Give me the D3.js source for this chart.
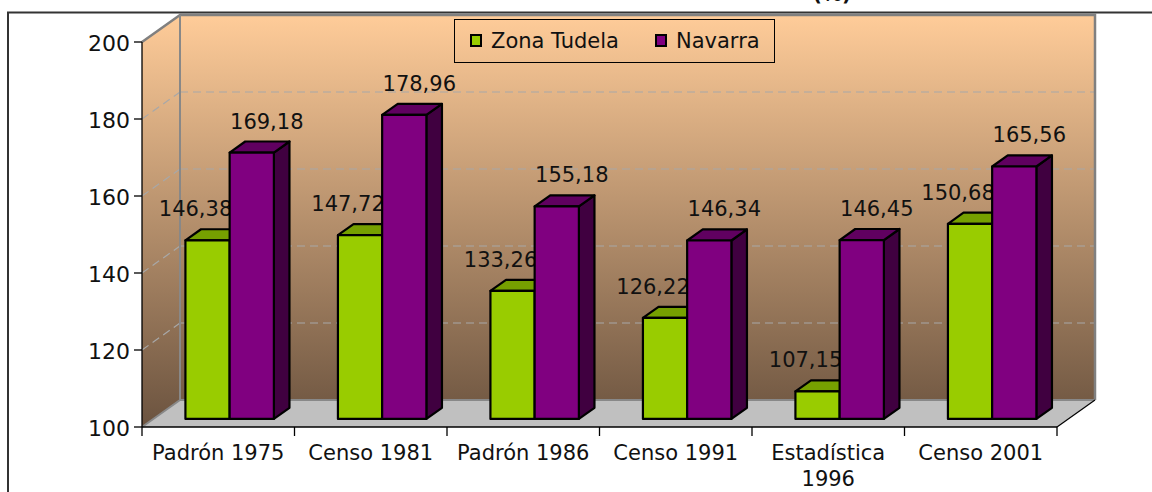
<!DOCTYPE html>
<html><head><meta charset="utf-8">
<script src="https://cdn.jsdelivr.net/npm/d3@7"></script>
<style>body{margin:0;background:#fff;overflow:hidden} text{font-family:"DejaVu Sans",Verdana,sans-serif;fill:#111}</style>
</head><body><svg id="c" width="1152" height="492"></svg>
<script>
const categories = ["Padrón 1975","Censo 1981","Padrón 1986","Censo 1991","Estadística 1996","Censo 2001"];
const seriesNames = ["Zona Tudela","Navarra"];
const zonaTudela = [146.38,147.72,133.26,126.22,107.15,150.68];
const navarra = [169.18,178.96,155.18,146.34,146.45,165.56];
const yTicks = [100,120,140,160,180,200];
const titleText = "(%)";

const series = [
  {name: seriesNames[0], values: zonaTudela, front:"#99CC00", top:"#76A000", side:"#5A7A00", labelDx:-12},
  {name: seriesNames[1], values: navarra, front:"#800080", top:"#600060", side:"#400040", labelDx:15}
];

const svg = d3.select("#c");
const fmt = d3.formatLocale({decimal:",", thousands:".", grouping:[3], currency:["","€"]}).format(".2f");

const X0=142, X1=1057, Y0=427, Y1=42, DX=38, DY=-27;
const x = d3.scaleBand().domain(categories).range([X0,X1]);
const y = d3.scaleLinear().domain([100,200]).range([Y0,Y1]);
const bw = x.bandwidth();
const xs = d3.scaleBand().domain(seriesNames).range([bw*0.21, bw*0.79]);
const f0 = 0.3, fd = 0.41;

// gradient
const defs = svg.append("defs");
const g = defs.append("linearGradient").attr("id","wall").attr("gradientUnits","userSpaceOnUse")
  .attr("x1",0).attr("x2",0).attr("y1",Y1+DY).attr("y2",Y0);
g.append("stop").attr("offset",0).attr("stop-color","#FFCC99");
g.append("stop").attr("offset",1).attr("stop-color","#6B533F");

// title (mostly cut off at top, as in the reference)
svg.append("text").attr("x",832).attr("y",1).attr("text-anchor","middle")
  .style("font-size","20px").style("font-weight","bold").text(titleText);

// back wall
svg.append("rect").attr("x",X0+DX).attr("y",Y1+DY).attr("width",X1-X0).attr("height",Y0-Y1)
  .attr("fill","url(#wall)");
// left wall
svg.append("polygon").attr("points",[[X0,Y1],[X0+DX,Y1+DY],[X0+DX,Y0+DY],[X0,Y0]].join(" "))
  .attr("fill","url(#wall)");
// floor
svg.append("polygon").attr("points",[[X0,Y0],[X0+DX,Y0+DY],[X1+DX,Y0+DY],[X1,Y0]].join(" "))
  .attr("fill","#C0C0C0");

// gridlines
const grid = yTicks.filter(t => t>100 && t<200);
svg.selectAll(".gl").data(grid).join("line")
  .attr("x1",X0+DX).attr("x2",X1+DX).attr("y1",d=>y(d)+DY).attr("y2",d=>y(d)+DY)
  .attr("stroke","#A8A8A8").attr("stroke-width",1.2).attr("stroke-dasharray","8,5");
svg.selectAll(".gd").data(grid).join("line")
  .attr("x1",X0).attr("x2",X0+DX).attr("y1",d=>y(d)).attr("y2",d=>y(d)+DY)
  .attr("stroke","#A8A8A8").attr("stroke-width",1.2).attr("stroke-dasharray","8,5");

// wall borders
svg.append("path").attr("d",`M${X0},${Y1}L${X0+DX},${Y1+DY}H${X1+DX}V${Y0+DY}`)
  .attr("fill","none").attr("stroke","#808080").attr("stroke-width",2.5);
svg.append("path").attr("d",`M${X0+DX},${Y1+DY}V${Y0+DY}H${X1+DX}M${X0},${Y0}L${X0+DX},${Y0+DY}`)
  .attr("fill","none").attr("stroke","#888").attr("stroke-width",2);
svg.append("path").attr("d",`M${X1},${Y0}L${X1+DX},${Y0+DY}`)
  .attr("fill","none").attr("stroke","#000").attr("stroke-width",1.2);

// axes
svg.append("line").attr("x1",X0).attr("x2",X0).attr("y1",Y1).attr("y2",Y0).attr("stroke","#000").attr("stroke-width",1.3);
svg.append("line").attr("x1",X0).attr("x2",X1).attr("y1",Y0).attr("y2",Y0).attr("stroke","#000").attr("stroke-width",1.3);
svg.selectAll(".yt").data(yTicks).join("line")
  .attr("x1",X0-8).attr("x2",X0).attr("y1",d=>y(d)).attr("y2",d=>y(d)).attr("stroke","#000").attr("stroke-width",1.3);
svg.selectAll(".yl").data(yTicks).join("text")
  .attr("x",X0-12).attr("y",d=>y(d)+9).attr("text-anchor","end").style("font-size","22px").text(d=>d);
const bounds = categories.map(c=>x(c)).concat([X1]);
svg.selectAll(".xt").data(bounds).join("line")
  .attr("x1",d=>d).attr("x2",d=>d).attr("y1",Y0).attr("y2",Y0+9).attr("stroke","#000").attr("stroke-width",1.3);

// category labels with wrapping
categories.forEach(c=>{
  const t = svg.append("text").attr("x",x(c)+bw/2).attr("y",460).attr("text-anchor","middle").style("font-size","21px");
  t.text(c);
  if (t.node().getComputedTextLength() > bw - 4) {
    const words = c.split(" ");
    t.text(null);
    words.forEach((w,i)=>t.append("tspan").attr("x",x(c)+bw/2).attr("dy",i?26:0).text(w));
  }
});

// bars
function barGeom(ci, s, v){
  const left = x(categories[ci]) + xs(s) + DX*f0;
  const right = left + xs.bandwidth();
  const bottom = y(100) + DY*f0;
  const top = y(v) + DY*f0;
  return {left,right,bottom,top,ddx:DX*fd,ddy:DY*fd};
}
series.forEach(s=>{
  const gS = svg.append("g");
  s.values.forEach((v,i)=>{
    const b = barGeom(i, s.name, v);
    const st = {stroke:"#000","stroke-width":2.2,"stroke-linejoin":"round"};
    const side = gS.append("polygon").attr("points",[[b.right,b.top],[b.right+b.ddx,b.top+b.ddy],[b.right+b.ddx,b.bottom+b.ddy],[b.right,b.bottom]].join(" ")).attr("fill",s.side);
    const topf = gS.append("polygon").attr("points",[[b.left,b.top],[b.left+b.ddx,b.top+b.ddy],[b.right+b.ddx,b.top+b.ddy],[b.right,b.top]].join(" ")).attr("fill",s.top);
    const fr = gS.append("rect").attr("x",b.left).attr("y",b.top).attr("width",b.right-b.left).attr("height",b.bottom-b.top).attr("fill",s.front);
    [side,topf,fr].forEach(e=>Object.entries(st).forEach(([k,val])=>e.attr(k,val)));
  });
  s.values.forEach((v,i)=>{
    const b = barGeom(i, s.name, v);
    gS.append("text").attr("x",(b.left+b.right)/2 + s.labelDx).attr("y",b.top-24)
      .attr("text-anchor","middle").style("font-size","21px").text(fmt(v));
  });
});

// legend
const lg = svg.append("g");
lg.append("rect").attr("x",454.5).attr("y",19.5).attr("width",320).attr("height",43).attr("fill","none").attr("stroke","#000").attr("stroke-width",1);
const lx = [471, 656];
series.forEach((s,i)=>{
  lg.append("rect").attr("x",lx[i]).attr("y",35).attr("width",10).attr("height",11).attr("fill",s.front).attr("stroke","#000").attr("stroke-width",2);
  lg.append("text").attr("x",lx[i]+20).attr("y",48).style("font-size","21px").text(s.name);
});

// outer frame
svg.append("path").attr("d","M8,492V12.5H1152").attr("fill","none").attr("stroke","#333").attr("stroke-width",2);
</script></body></html>
